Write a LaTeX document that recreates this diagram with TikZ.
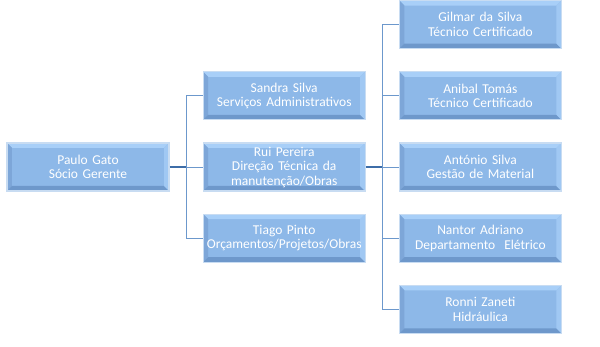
\documentclass[tikz,border=0pt]{standalone}
\usepackage{fontspec}
\setmainfont[WordSpace=0.7]{Carlito}
\usetikzlibrary{positioning,calc}
\definecolor{BoxFill}{HTML}{8DB8E8}
\definecolor{BoxEdge}{HTML}{C8DCF2}
\definecolor{BevelLight}{HTML}{A8CFF8}
\definecolor{BevelShade}{HTML}{7DA6D8}
\definecolor{BevelDark}{HTML}{6E98CB}
\definecolor{Trunk}{HTML}{3D6DA8}
\definecolor{Branch}{HTML}{6C98CC}

\begin{document}
\begin{tikzpicture}[
 node distance=22pt and 33pt,
 b/.style={draw=BoxEdge,line width=1.2pt,fill=BoxFill,minimum width=162pt,minimum height=48pt,inner sep=0pt,
  text width=160pt,align=center,text=white,font=\fontsize{13.5}{14.5}\selectfont,
  path picture={
   \coordinate (nw) at (path picture bounding box.north west);
   \coordinate (ne) at (path picture bounding box.north east);
   \coordinate (sw) at (path picture bounding box.south west);
   \coordinate (se) at (path picture bounding box.south east);
   \fill[BevelLight] (nw)--(ne)--($(ne)+(-5pt,-5pt)$)--($(nw)+(5pt,-5pt)$)--cycle;
   \fill[BevelShade] (nw)--(sw)--($(sw)+(5pt,5pt)$)--($(nw)+(5pt,-5pt)$)--cycle;
   \fill[BevelDark] (sw)--(se)--($(se)+(-5pt,5pt)$)--($(sw)+(5pt,5pt)$)--cycle;
   \fill[BevelLight!70!BoxFill] (ne)--(se)--($(se)+(-5pt,5pt)$)--($(ne)+(-5pt,-5pt)$)--cycle;
  }},
 a/.style={draw=Trunk,line width=2pt},
 l/.style={draw=Branch,line width=0.9pt}
]
\path[use as bounding box] (-88pt,167pt) rectangle (512pt,-180pt);
\node[b] (paulo) at (0,0) {Paulo Gato\\Sócio Gerente};
\node[b,right=of paulo] (rui) {Rui Pereira\\Direção Técnica da\\manutenção/Obras};
\node[b,above=of rui] (sandra) {Sandra Silva\\Serviços Administrativos};
\node[b,below=of rui] (tiago) {Tiago Pinto\\Orçamentos/Projetos/Obras};
\node[b,right=of rui] (antonio) {António Silva\\Gestão de Material};
\node[b,above=of antonio] (anibal) {Anibal Tomás\\Técnico Certificado};
\node[b,above=of anibal] (gilmar) {Gilmar da Silva\\Técnico Certificado};
\node[b,below=of antonio] (nantor) {Nantor Adriano\\Departamento~ Elétrico};
\node[b,below=of nantor] (ronni) {Ronni Zaneti\\Hidráulica};
\coordinate (j1) at ($(paulo.east)!0.5!(rui.west)$);
\coordinate (j2) at ($(rui.east)!0.5!(antonio.west)$);
\draw[l] (sandra.west) -| (j1) |- (tiago.west);\draw[l] (j1) -- (rui.west);
\draw[l] (gilmar.west) -| (j2) |- (ronni.west);\draw[l] (anibal.west) -| (j2);\draw[l] (nantor.west) -| (j2);\draw[l] (j2) -- (antonio.west);
\draw[a] (paulo.east) -- (j1);\draw[a] (rui.east) -- (j2);
\end{tikzpicture}
\end{document}
